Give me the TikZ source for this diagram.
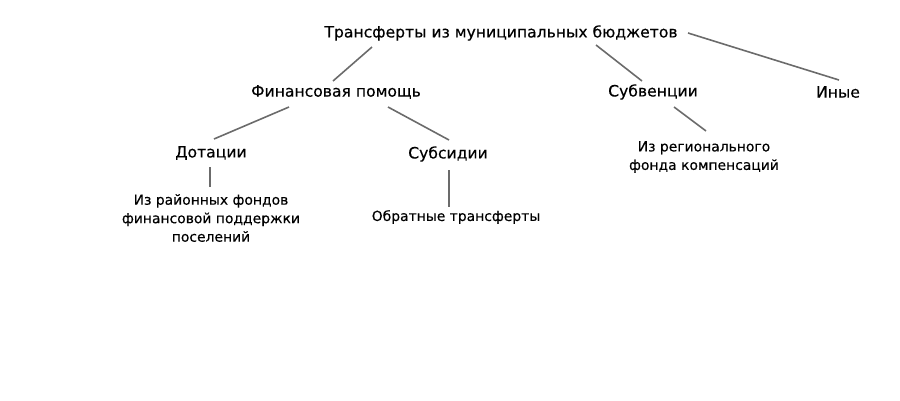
\documentclass[tikz,border=0pt]{standalone}
\usepackage{fontspec}
\setmainfont{DejaVu Sans}
\definecolor{linkgray}{HTML}{6B6B6B}
\tikzset{
  head/.style={font=\fontsize{15.6}{18}\selectfont\addfontfeature{FakeBold=0.3}, inner sep=1pt},
  leaf/.style={font=\fontsize{13.9}{18.5}\selectfont\addfontfeature{FakeBold=0.3}, align=center, inner sep=1pt},
  link/.style={draw=linkgray, line width=1.6pt},
}

\begin{document}
\begin{tikzpicture}[x=1pt,y=-1pt]
  \draw[draw=none, use as bounding box] (0,0) rectangle (900,400);
  % levels
  \node[head] (top)  at (501,33)  {Трансферты из муниципальных бюджетов};
  \node[head] (fin)  at (336,92)  {Финансовая помощь};
  \node[head] (subv) at (653,92)  {Субвенции};
  \node[head] (other) at (838,92) {Иные};
  \node[head] (dot)  at (211,153) {Дотации};
  \node[head] (subs) at (448,154) {Субсидии};
  \node[leaf] (rayon) at (211,218) {Из районных фондов\\финансовой поддержки\\поселений};
  \node[leaf] (back) at (456,217) {Обратные трансферты};
  \node[leaf] (region) at (704,157) {Из регионального\\фонда компенсаций};
  % connectors
  \draw[link] ([shift={(-129,14)}]top.center) -- ([shift={(-3,-11)}]fin.center);
  \draw[link] ([shift={(95,12)}]top.center) -- ([shift={(-11,-11)}]subv.center);
  \draw[link] ([shift={(187,0)}]top.center) -- ([shift={(1,-12)}]other.center);
  \draw[link] ([shift={(-47,15)}]fin.center) -- ([shift={(3,-14)}]dot.center);
  \draw[link] ([shift={(52,15)}]fin.center) -- ([shift={(1,-14)}]subs.center);
  \draw[link] ([shift={(-1,14)}]dot.center) -- ([shift={(-1,-31)}]rayon.center);
  \draw[link] ([shift={(1,16)}]subs.center) -- ([shift={(-7,-10)}]back.center);
  \draw[link] ([shift={(21,15)}]subv.center) -- ([shift={(2,-26)}]region.center);
\end{tikzpicture}
\end{document}
